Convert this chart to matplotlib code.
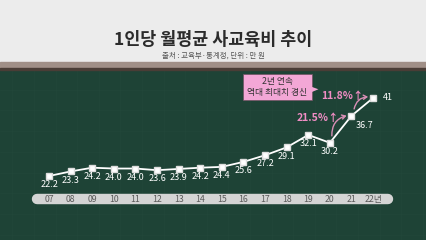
import matplotlib.pyplot as plt
from matplotlib.patches import Rectangle, Polygon, FancyArrowPatch

plt.rcParams['font.family'] = ['Noto Sans CJK KR', 'DejaVu Sans']

# data
years = ['07', '08', '09', '10', '11', '12', '13', '14', '15', '16', '17', '18', '19', '20', '21', '22년']
values = [22.2, 23.3, 24.2, 24.0, 24.0, 23.6, 23.9, 24.2, 24.4, 25.6, 27.2, 29.1, 32.1, 30.2, 36.7, 41]
labels = ['22.2', '23.3', '24.2', '24.0', '24.0', '23.6', '23.9', '24.2', '24.4', '25.6', '27.2', '29.1', '32.1', '30.2', '36.7', '41']
growth = ['21.5%↑', '11.8%↑']

W, H = 426, 240
fig = plt.figure(figsize=(W / 100, H / 100), dpi=100)
fig.patch.set_facecolor('#ececec')

# board + wooden strip
fig.add_artist(Rectangle((0, 0), 1, 1 - 69 / H, transform=fig.transFigure, color='#1e4336', zorder=0))
fig.add_artist(Rectangle((0, 1 - 68 / H), 1, 6 / H, transform=fig.transFigure, color='#a08f87', zorder=1))
fig.add_artist(Rectangle((0, 1 - 70 / H), 1, 2 / H, transform=fig.transFigure, color='#4a3d36', zorder=1))

fig.text(0.5, 1 - 40 / H, '1인당 월평균 사교육비 추이', ha='center', va='center',
         fontsize=12.5, fontweight='bold', color='#2b2b2b')
fig.text(0.5, 1 - 56 / H, '출처 : 교육부·통계청, 단위 : 만 원', ha='center', va='center',
         fontsize=5.4, color='#555555')

# data axes over the board
ax = fig.add_axes([0, 0, 1, 1 - 70 / H])
ax.set_facecolor('none')
ax.axis('off')
ax.set_xlim(-2.27, 17.45)
ax.set_ylim(6.78, 47.74)

# faint chalkboard grid
for gx in range(-2, 18):
    ax.axvline(gx + 0.3, color='#28503f', lw=0.4, alpha=0.4, zorder=1)
for gy in range(8, 48, 5):
    ax.axhline(gy, color='#28503f', lw=0.4, alpha=0.4, zorder=1)

x = list(range(len(values)))
ax.plot(x, values, color='white', lw=1.3, zorder=3)
ax.plot(x, values, 's', ms=4, color='white', mec='#dddddd', zorder=4)

for i, (v, t) in enumerate(zip(values, labels)):
    if i == 15:
        ax.text(i + 0.45, v, t, color='white', fontsize=6.5, ha='left', va='center', zorder=5)
    elif i == 14:
        ax.text(i + 0.2, v - 1.2, t, color='white', fontsize=6.5, ha='left', va='top', zorder=5)
    else:
        ax.text(i, v - 1.0, t, color='white', fontsize=6.5, ha='center', va='top', zorder=5)

# tick pill
ax.plot([-0.55, 15.7], [16.65, 16.65], color='#d4d4d4', lw=7.5, solid_capstyle='round', zorder=2)
for i, t in enumerate(years):
    ax.text(i, 16.65, t, color='#5a5a5a', fontsize=6.3, ha='center', va='center', zorder=5)

# growth arrows
ax.add_patch(FancyArrowPatch((13.1, 31.2), (13.9, 36.9), connectionstyle='arc3,rad=-0.45',
                             arrowstyle='->,head_length=2.5,head_width=1.5', color='#d98fb6', lw=1, zorder=4))
ax.add_patch(FancyArrowPatch((14.1, 37.7), (14.9, 41.3), connectionstyle='arc3,rad=-0.45',
                             arrowstyle='->,head_length=2.5,head_width=1.5', color='#d98fb6', lw=1, zorder=4))
ax.text(12.45, 36.2, growth[0], color='#f08dc4', fontsize=7.5, fontstyle='italic', fontweight='bold',
        ha='center', va='center', zorder=5)
ax.text(13.55, 41.5, growth[1], color='#f08dc4', fontsize=7.5, fontstyle='italic', fontweight='bold',
        ha='center', va='center', zorder=5)

# callout box
bx0, bx1 = 8.98, 12.17
by0, by1 = 40.5, 46.75
ax.add_patch(Rectangle((bx0, by0), bx1 - bx0, by1 - by0, fc='#f3a7d6', ec='#6d5260', lw=0.5, zorder=4))
ax.add_patch(Polygon([(bx1 - 0.02, 43.7), (bx1 + 0.3, 43.1), (bx1 - 0.02, 42.4)], closed=True,
                     fc='#f3a7d6', ec='none', zorder=5))
ax.text((bx0 + bx1) / 2, 44.95, '2년 연속', color='#333333', fontsize=6.3, ha='center', va='center', zorder=6)
ax.text((bx0 + bx1) / 2, 42.2, '역대 최대치 경신', color='#333333', fontsize=6.3, ha='center', va='center', zorder=6)

plt.savefig('out.png', dpi=100)
